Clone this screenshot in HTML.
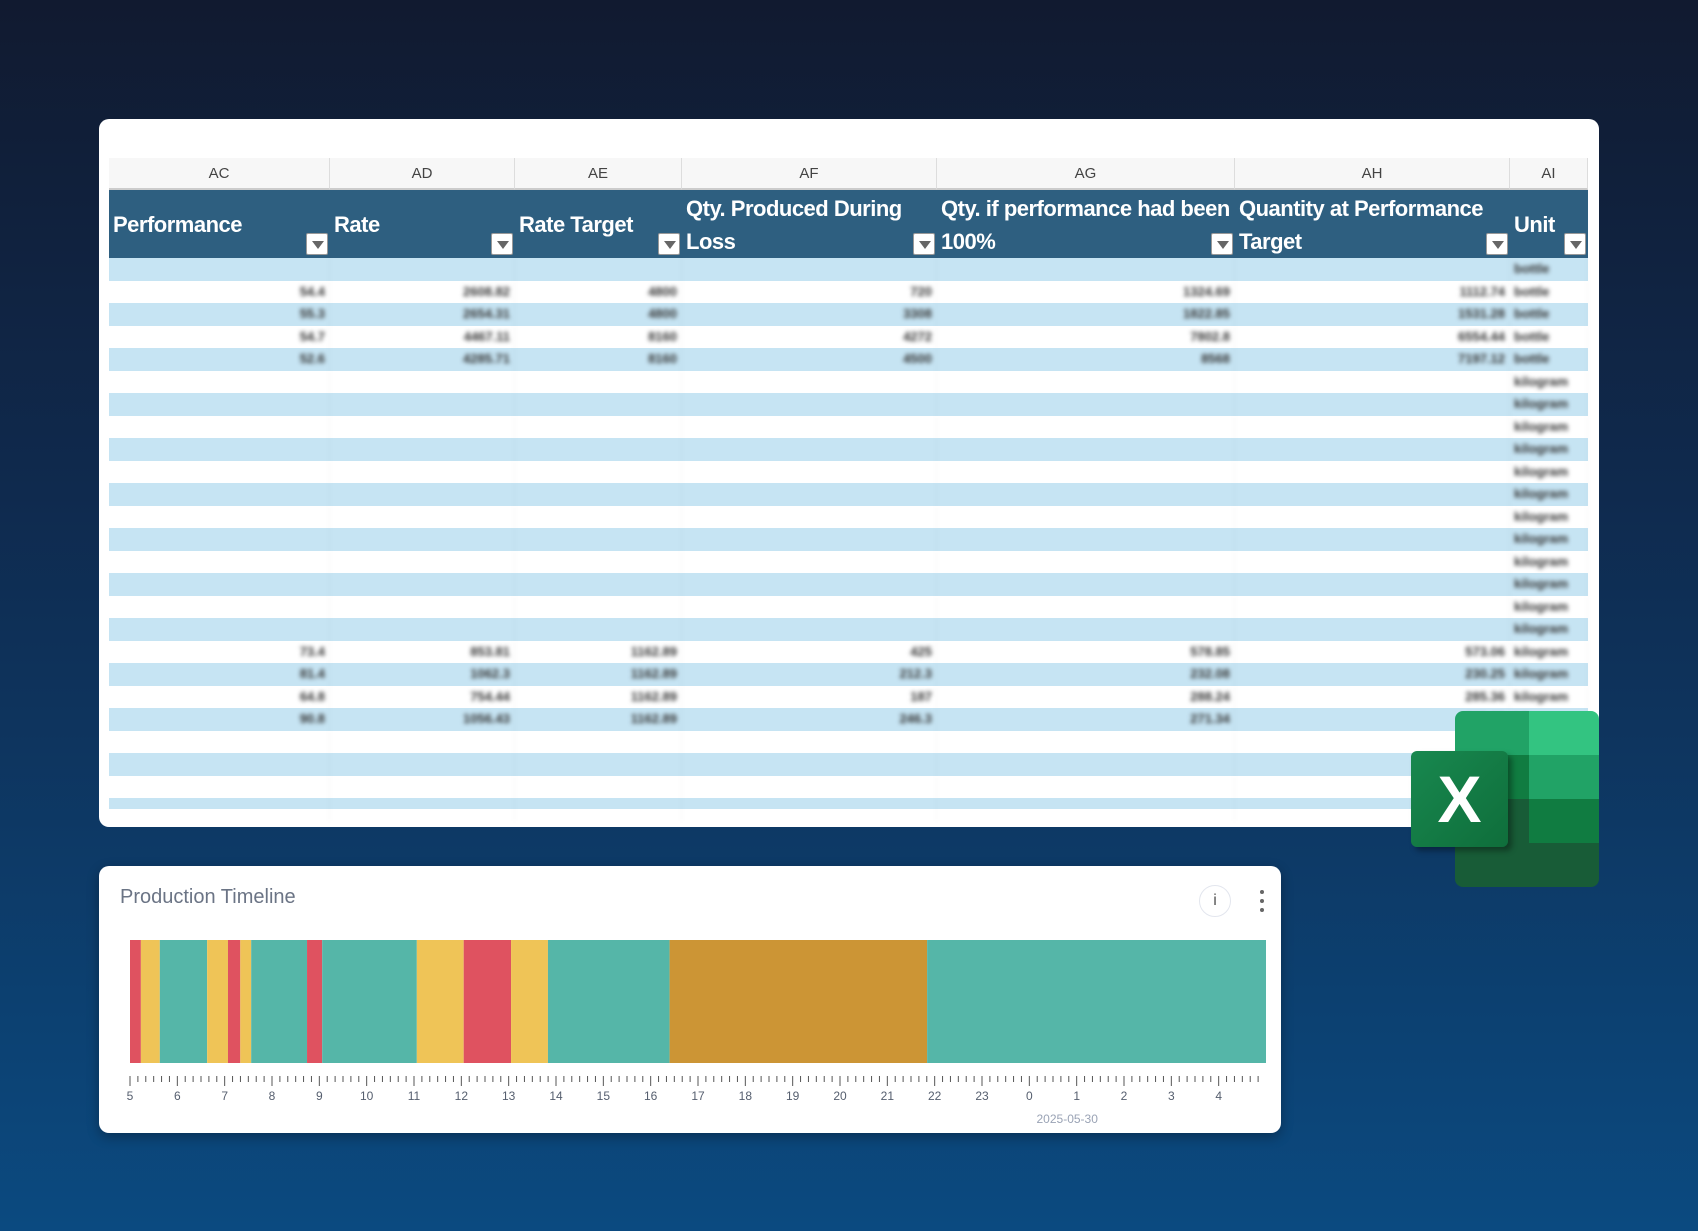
<!DOCTYPE html>
<html><head><meta charset="utf-8"><style>
*{box-sizing:border-box;margin:0;padding:0}
body{width:1698px;height:1231px;overflow:hidden;background:linear-gradient(180deg,#111a30 0%,#0f2a4e 40%,#0b4a80 100%);font-family:"Liberation Sans",sans-serif;position:relative}
#sheet{position:absolute;left:99px;top:119px;width:1500px;height:708px;background:#fff;border-radius:10px}
.colhdr{position:absolute;top:39px;height:32px;background:#f7f7f7;border-right:1px solid #ddd;border-bottom:2px solid #ccc;color:#444;font-size:15px;text-align:center;line-height:32px}
.hdr{position:absolute;top:71px;height:68px;background:#2e5f80;color:#fff;font-family:"Liberation Sans Narrow","Liberation Sans",sans-serif;font-weight:bold;font-size:22px;line-height:33px;padding:2px 4px;letter-spacing:-0.5px}
.filt{position:absolute;right:2px;bottom:3px;width:22px;height:22px;background:#fff;border:1px solid #999;border-radius:2px}
.filt:after{content:"";position:absolute;left:5px;top:7px;border-left:6px solid transparent;border-right:6px solid transparent;border-top:8px solid #666}
.row{position:absolute;left:10px;width:1479px;height:22.5px}
.cell{position:absolute;top:0;height:22.5px;font-size:13px;font-weight:bold;line-height:22.5px;text-align:right;padding-right:4px;color:#333;filter:blur(2.2px);border-right:1px solid rgba(0,0,0,0.04)}
#tl{position:absolute;left:99px;top:866px;width:1182px;height:267px;background:#fff;border-radius:10px;box-shadow:0 4px 12px rgba(0,0,0,0.3)}
.dot{position:absolute;left:6px;width:4px;height:4px;border-radius:50%;background:#666}
</style></head><body>
<div id="sheet"></div>

<div style="position:absolute;left:1455px;top:711px;width:144px;height:176px;border-radius:8px;overflow:hidden">
 <div style="position:absolute;left:0;top:0;width:74px;height:44px;background:#21a366"></div>
 <div style="position:absolute;left:74px;top:0;width:70px;height:44px;background:#33c481"></div>
 <div style="position:absolute;left:0;top:44px;width:74px;height:44px;background:#107c41"></div>
 <div style="position:absolute;left:74px;top:44px;width:70px;height:44px;background:#21a366"></div>
 <div style="position:absolute;left:0;top:88px;width:74px;height:44px;background:#185c37"></div>
 <div style="position:absolute;left:74px;top:88px;width:70px;height:44px;background:#107c41"></div>
 <div style="position:absolute;left:0;top:132px;width:144px;height:44px;background:#185c37"></div>
</div>
<div style="position:absolute;left:1411px;top:751px;width:97px;height:96px;background:linear-gradient(135deg,#18884f,#0f6e3b);border-radius:6px;box-shadow:4px 4px 6px rgba(0,0,0,0.35);color:#fff;font:bold 66px 'Liberation Sans',sans-serif;text-align:center;line-height:96px">X</div>

<div id="tl">
 <div style="position:absolute;left:21px;top:20px;font-size:20px;color:#6b7485">Production Timeline</div>
 <div style="position:absolute;left:1100px;top:19px;width:32px;height:32px;border:1px solid #e3e6ee;border-radius:50%;text-align:center;line-height:30px;font-size:16px;color:#555">i</div>
 <div style="position:absolute;left:1155px;top:22px;width:16px;height:28px">
  <div class="dot" style="top:2px"></div><div class="dot" style="top:11px"></div><div class="dot" style="top:20px"></div>
 </div>
 <svg id="tlsvg" width="1182" height="267" style="position:absolute;left:0;top:0"></svg>
</div>

<script>
// ---- spreadsheet data ----
const colLetters=["AC","AD","AE","AF","AG","AH","AI"];
const headers=[["Performance"],["Rate"],["Rate Target"],["Qty. Produced During","Loss"],["Qty. if performance had been","100%"],["Quantity at Performance","Target"],["Unit"]];
const perf=["","54.4","55.3","54.7","52.6","","","","","","","","","","","","","73.4","81.4","64.8","90.8","","","",""];
const rate=["","2608.82","2654.31","4467.11","4285.71","","","","","","","","","","","","","853.81","1062.3","754.44","1056.43","","","",""];
const rateTarget=["","4800","4800","8160","8160","","","","","","","","","","","","","1162.89","1162.89","1162.89","1162.89","","","",""];
const qtyLoss=["","720","3308","4272","4500","","","","","","","","","","","","","425","212.3","187","246.3","","","",""];
const qty100=["","1324.69","1822.85","7802.8","8568","","","","","","","","","","","","","578.85","232.08","288.24","271.34","","","",""];
const qtyTarget=["","1112.74","1531.28","6554.44","7197.12","","","","","","","","","","","","","573.06","230.25","285.36","268.62","","","",""];
const units=["bottle","bottle","bottle","bottle","bottle","kilogram","kilogram","kilogram","kilogram","kilogram","kilogram","kilogram","kilogram","kilogram","kilogram","kilogram","kilogram","kilogram","kilogram","kilogram","kilogram","","","",""];
const colEdges=[10,231,416,583,838,1136,1411,1489];
const sheet=document.getElementById('sheet');
colLetters.forEach((l,i)=>{
  const d=document.createElement('div');d.className='colhdr';
  
  
  d.style.left=colEdges[i]+'px';d.style.width=(colEdges[i+1]-colEdges[i])+'px';d.textContent=l;sheet.appendChild(d);
  const h=document.createElement('div');h.className='hdr';
  
  
  h.style.left=colEdges[i]+'px';h.style.width=(colEdges[i+1]-colEdges[i])+'px';
  if(headers[i].length==1){h.style.paddingTop='18px';}
  h.innerHTML=headers[i].join('<br>');
  const f=document.createElement('div');f.className='filt';
  
  
  h.appendChild(f);sheet.appendChild(h);
});
const cols=[perf,rate,rateTarget,qtyLoss,qty100,qtyTarget,units];
for(let r=0;r<25;r++){
  const row=document.createElement('div');row.className='row';
  
  
  row.style.top=(139+r*22.5)+'px';row.style.background=r%2==0?'#c6e4f3':'#fff';
  if(r==24)row.style.height='11px';
  cols.forEach((c,i)=>{
    const d=document.createElement('div');d.className='cell';
    
    
    d.style.left=(colEdges[i]-10)+'px';d.style.width=(colEdges[i+1]-colEdges[i])+'px';
    if(i==6){d.style.textAlign='left';d.style.paddingLeft='4px';}
    d.textContent=c[r];row.appendChild(d);
  });
  sheet.appendChild(row);
}

// ---- timeline data (hours, 29 = 5:00 next day) ----
const segStart=[5.0,5.23,5.63,6.63,7.07,7.33,7.56,8.74,9.06,11.06,12.05,13.05,13.83,16.4,21.84];
const segEnd=[5.23,5.63,6.63,7.07,7.33,7.56,8.74,9.06,11.06,12.05,13.05,13.83,16.4,21.84,29.0];
const segState=["down","slow","run","slow","down","slow","run","down","run","slow","down","slow","run","idle","run"];
const tickLabels=["5","6","7","8","9","10","11","12","13","14","15","16","17","18","19","20","21","22","23","0","1","2","3","4"];
const domainMin=5,domainMax=29;
const colors={run:"#55b6a8",slow:"#efc457",down:"#df5260",idle:"#cc9535"};
const svg=document.getElementById('tlsvg');const NS="http://www.w3.org/2000/svg";
const X0=31,X1=1167;const xs=h=>X0+(h-domainMin)/(domainMax-domainMin)*(X1-X0);
const barTop=74,barBot=197;
segStart.forEach((s,i)=>{
  const r=document.createElementNS(NS,'rect');
  
  
  r.setAttribute('x',xs(s));r.setAttribute('width',Math.max(0,xs(segEnd[i])-xs(s)));
  r.setAttribute('y',barTop);r.setAttribute('height',barBot-barTop);r.setAttribute('fill',colors[segState[i]]);
  svg.appendChild(r);
});
for(let m=0;m<=(domainMax-domainMin)*6-1;m++){
  const h=domainMin+m/6;const major=m%6==0;
  const l=document.createElementNS(NS,'line');
  
  
  l.setAttribute('x1',xs(h));l.setAttribute('x2',xs(h));l.setAttribute('y1',210);l.setAttribute('y2',major?220:216);
  l.setAttribute('stroke','#555');l.setAttribute('stroke-width',1);svg.appendChild(l);
}
tickLabels.forEach((t,i)=>{
  const tx=document.createElementNS(NS,'text');
  
  
  tx.setAttribute('x',xs(domainMin+i));tx.setAttribute('y',234);tx.setAttribute('text-anchor','middle');
  tx.setAttribute('font-size','12');tx.setAttribute('fill','#555e6e');tx.setAttribute('font-family','Liberation Sans');
  tx.textContent=t;svg.appendChild(tx);
});
const dl=document.createElementNS(NS,'text');


dl.setAttribute('x',xs(24.8));dl.setAttribute('y',257);dl.setAttribute('text-anchor','middle');
dl.setAttribute('font-size','12');dl.setAttribute('fill','#9aa3b5');dl.setAttribute('font-family','Liberation Sans');
dl.textContent="2025-05-30";svg.appendChild(dl);
</script>
</body></html>
